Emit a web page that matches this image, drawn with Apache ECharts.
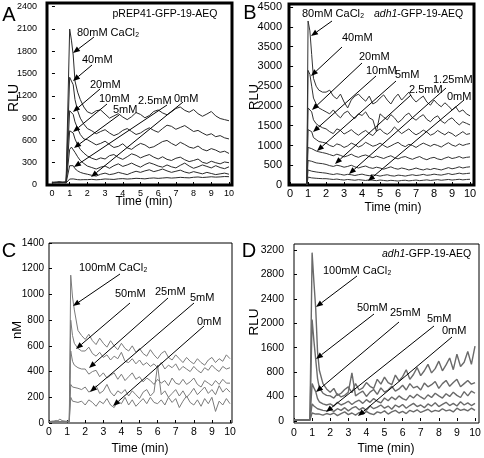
<!DOCTYPE html>
<html><head><meta charset="utf-8">
<script src="https://cdn.jsdelivr.net/npm/echarts@6/dist/echarts.min.js"></script>
<style>html,body{margin:0;padding:0;background:#fff}#c{width:484px;height:458px}</style>
</head><body><div id="c"></div>
<script>
// ---------- Panel A (pREP41-GFP-19-AEQ, RLU) ----------
const tA = [0,0.2,0.4,0.6,0.8,0.88,1.0,1.1,1.2,1.3,1.45,1.6,1.8,
  2.0,2.25,2.5,2.75,3.0,3.25,3.5,3.75,4.0,4.25,4.5,4.75,5.0,5.25,5.5,5.75,6.0,6.25,6.5,6.75,7.0,7.25,7.5,7.75,8.0,8.25,8.5,8.75,9.0,9.25,9.5,9.75,10.0];
const a80 = [40,35,45,38,42,60, 2100,1950,1750,1400,1250,1150,1050,
  985,960,1000,1010,955,900,930,960,915,880,920,975,950,905,935,990,1010,970,945,985,1030,1050,1005,980,1015,960,925,955,990,930,895,880,865];
const a40 = [35,30,40,35,38,55, 1450,1450,1350,1150,1000,900,820,
  760,730,690,720,745,700,665,690,735,760,720,680,700,740,770,735,710,760,805,790,750,775,800,760,720,735,700,670,690,650,665,635,620];
const a20 = [30,40,35,30,40,50, 1000,1000,950,850,760,680,620,
  610,575,540,560,590,545,505,520,555,500,480,525,560,540,500,515,550,585,600,560,530,575,545,510,495,525,480,460,490,470,440,455,425];
const a10 = [35,30,38,32,36,50, 730,740,700,620,540,480,430,
  390,360,340,365,350,395,410,370,345,380,420,400,365,390,410,375,350,380,345,330,360,375,340,315,330,350,305,290,320,300,285,310,300];
const a5 = [30,35,32,38,34,45, 480,510,500,440,380,330,290,
  255,235,215,240,255,225,260,285,250,270,295,265,240,275,300,280,255,240,270,245,230,265,295,255,225,245,270,250,230,260,235,220,245];
const a2_5 = [28,32,30,34,30,40, 260,280,260,220,190,170,155,
  145,130,120,145,160,140,150,170,155,140,165,185,170,190,205,180,195,215,190,170,185,200,175,160,180,165,150,170,155,140,150,160,145];
const a0 = [25,30,28,32,28,35, 80,85,82,78,72,70,72,
  72,76,70,74,81,78,75,83,86,80,84,90,87,83,91,95,89,94,99,93,97,103,99,96,104,108,101,105,111,106,109,114,112];
const aYTicks = [0,300,600,900,1200,1500,1800,2100,2400];

// ---------- Panel B (adh1-GFP-19-AEQ, RLU) ----------
const tB = [0.93,1.0,1.1,1.2,1.3,1.45,1.6,1.8,
  2.0,2.2,2.4,2.6,2.8,3.0,3.2,3.4,3.6,3.8,4.0,4.2,4.4,4.6,4.8,5.0,5.2,5.4,5.6,5.8,6.0,6.2,6.4,6.6,6.8,7.0,7.2,7.4,7.6,7.8,8.0,8.2,8.4,8.6,8.8,9.0,9.2,9.4,9.6,9.8,10.0];
const b80 = [0,4150,3900,3300,2700,2500,2400,2350,
  2350,2400,2250,2180,2300,2100,1950,2150,2250,2300,2200,2120,2250,2050,2100,2200,2280,2150,2050,2200,2300,2150,2250,2350,2200,2100,2180,2250,2100,2020,2150,2050,1980,2080,2000,1900,1980,1850,1900,1800,1750];
const b40 = [0,2900,2800,2500,2200,2050,1950,1900,
  1850,1800,1900,1780,1700,1820,1870,1750,1680,1800,1760,1850,1700,1650,1350,1800,1720,1650,1780,1700,1580,1650,1760,1820,1700,1640,1720,1780,1660,1600,1700,1750,1620,1560,1650,1700,1600,1520,1600,1560,1520];
const b20 = [0,1950,1950,1850,1650,1550,1500,1450,
  1420,1350,1300,1420,1380,1290,1340,1400,1320,1260,1330,1380,1300,1250,1360,1420,1330,1280,1350,1470,1380,1300,1360,1420,1330,1270,1320,1390,1340,1260,1300,1380,1320,1270,1340,1300,1230,1290,1350,1280,1300];
const b10 = [0,1400,1400,1350,1200,1150,1100,1080,
  1060,1000,970,1040,1010,950,990,1060,1020,960,1000,1080,1030,980,1010,1060,1000,950,990,1040,1080,1010,970,1030,1000,950,1010,1060,1020,980,1030,1000,960,1020,1070,1010,980,1040,1000,1030,1050];
const b5 = [0,950,950,920,880,860,840,820,
  800,770,740,780,750,710,740,780,730,700,740,760,720,690,730,700,670,710,740,690,660,700,720,680,650,690,720,670,640,680,700,660,640,680,710,670,690,720,680,700,710];
const b2_5 = [0,620,620,600,580,560,550,540,
  520,490,470,500,480,450,470,500,460,430,460,480,440,420,450,430,400,430,460,420,400,430,410,380,400,430,400,380,410,390,420,400,380,410,440,410,430,460,430,450,460];
const b1_25 = [0,380,370,350,340,330,320,310,
  300,280,265,285,270,250,270,260,240,260,275,250,235,255,245,225,245,260,235,225,250,240,225,245,260,240,250,270,245,255,275,260,250,270,290,265,280,300,280,290,300];
const b0 = [0,200,190,180,175,170,165,160,
  160,150,140,150,135,125,140,130,120,135,125,115,130,120,110,125,115,105,118,110,100,115,120,105,115,125,110,120,130,115,125,135,120,130,140,125,135,145,130,140,145];
const bYTicks = [0,500,1000,1500,2000,2500,3000,3500,4000,4500];

// ---------- Panel C (nM) ----------
const tC = [0,0.2,0.4,0.6,0.8,1.0,1.12,1.2,1.3,1.4,1.6,1.8,
  2.0,2.2,2.4,2.6,2.8,3.0,3.2,3.4,3.6,3.8,4.0,4.2,4.4,4.6,4.8,5.0,5.2,5.4,5.6,5.8,6.0,6.2,6.4,6.6,6.8,7.0,7.2,7.4,7.6,7.8,8.0,8.2,8.4,8.6,8.8,9.0,9.2,9.4,9.6,9.8,10.0];
const c100 = [10,15,8,30,12,10,15, 1150,980,880,720,680,
  650,690,640,610,660,620,590,640,600,570,620,580,560,600,550,580,540,520,570,530,500,540,560,510,490,530,500,470,510,480,460,500,470,450,490,510,470,500,480,530,500];
const c50 = [10,12,20,10,15,12,12, 800,680,620,580,560,
  560,590,540,520,550,510,530,490,520,500,550,480,470,500,460,490,450,470,440,460,430,470,420,450,430,460,410,440,420,400,440,410,390,430,410,450,420,400,440,420,430];
const c25 = [12,10,15,12,10,14,12, 560,480,450,430,420,
  420,380,400,410,360,390,350,370,390,340,380,330,360,390,340,360,320,350,330,300,340,310,330,290,350,310,300,340,300,320,350,300,280,330,310,290,330,300,340,310,310];
const c5 = [10,8,12,10,15,10,10, 300,280,290,270,260,
  280,240,260,290,230,250,300,240,210,250,230,260,210,250,220,190,240,260,210,240,450,220,250,200,230,260,210,250,200,230,270,220,250,280,230,260,220,290,240,270,240];
const c0 = [8,10,9,12,10,8,10, 200,170,180,160,170,
  140,180,160,130,170,150,190,140,120,170,150,200,140,180,130,160,190,150,200,160,150,180,140,200,160,190,120,170,210,160,140,180,130,190,150,200,90,170,140,190,150];
const cYTicks = [0,200,400,600,800,1000,1200,1400];

// ---------- Panel D (adh1-GFP-19-AEQ, RLU) ----------
const tD = [0,0.3,0.6,0.88,0.95,1.0,1.1,1.2,1.3,1.4,1.6,1.8,
  2.0,2.2,2.4,2.6,2.8,3.0,3.2,3.4,3.6,3.8,4.0,4.2,4.4,4.6,4.8,5.0,5.2,5.4,5.6,5.8,6.0,6.2,6.4,6.6,6.8,7.0,7.2,7.4,7.6,7.8,8.0,8.2,8.4,8.6,8.8,9.0,9.2,9.4,9.6,9.8,10.0];
const d100 = [20,15,25,18,20, 3150,2600,2100,1300,950,700,600,
  540,610,480,520,590,640,530,700,580,620,720,650,610,780,690,820,720,680,860,750,830,960,780,870,1000,850,940,1060,900,980,1120,940,1050,1180,960,1250,1020,1100,1300,1060,1400];
const d50 = [18,22,15,20,20, 1900,1500,1150,800,620,520,480,
  470,430,510,450,480,540,900,470,520,560,460,540,590,500,620,540,580,650,560,600,670,580,700,620,650,580,710,640,680,740,610,700,760,650,720,780,640,700,760,690,720];
const d25 = [15,20,18,22,18, 700,620,550,420,360,320,300,
  320,280,350,300,330,370,310,360,390,330,400,350,420,370,340,430,380,450,400,470,420,390,480,430,500,450,410,490,440,520,470,430,510,460,540,480,440,550,470,560,520];
const d5 = [20,18,22,20,18, 320,280,250,230,220,200,190,
  210,180,230,200,250,190,240,270,210,250,200,280,230,260,300,240,280,220,300,260,310,240,290,330,270,300,250,320,280,340,270,310,350,290,330,280,360,300,340,290,330];
const d0 = [18,20,16,20,18, 150,140,130,120,130,110,140,
  120,150,100,140,170,120,150,110,160,130,180,140,120,170,150,190,130,170,200,150,180,140,200,170,210,160,190,220,170,200,180,230,190,210,170,240,200,220,190,240,200];
const dYTickLabels = ['0','400','800','1600','2000','2400','2800','3200'];

const xTicks = [0,1,2,3,4,5,6,7,8,9,10];

// ---------- chart ----------
const FF = '"Liberation Sans", Arial, Helvetica, sans-serif';
const chart = echarts.init(document.getElementById('c'), null, {renderer: 'canvas'});

const grids = [
  {left: 47, top: 3, width: 185, height: 182, show: true, borderColor: '#000', borderWidth: 3, backgroundColor: 'rgba(0,0,0,0)'},
  {left: 289, top: 4, width: 185, height: 181, show: true, borderColor: '#000', borderWidth: 3, backgroundColor: 'rgba(0,0,0,0)'},
  {left: 49, top: 243, width: 183, height: 180, show: true, borderColor: '#000', borderWidth: 1, backgroundColor: 'rgba(0,0,0,0)'},
  {left: 294, top: 244, width: 185, height: 179, show: true, borderColor: '#000', borderWidth: 1, backgroundColor: 'rgba(0,0,0,0)'}
];
const plain = function (v) { return String(v); };

function xAx(gi, min, max, fs, margin) {
  return {type: 'value', gridIndex: gi, min: min, max: max,
    axisLine: {show: false}, splitLine: {show: false},
    axisTick: {show: true, inside: true, length: 3, customValues: xTicks, lineStyle: {color: '#000'}},
    axisLabel: {customValues: xTicks, fontSize: fs, fontFamily: FF, color: '#000', margin: margin, formatter: plain}};
}
function yAx(gi, min, max, ticks, fs, margin, fmt) {
  return {type: 'value', gridIndex: gi, min: min, max: max,
    axisLine: {show: false}, splitLine: {show: false},
    axisTick: {show: true, inside: true, length: 3, customValues: ticks, lineStyle: {color: '#000'}},
    axisLabel: {customValues: ticks, fontSize: fs, fontFamily: FF, color: '#000', margin: margin, formatter: fmt || plain}};
}
const dStep = 3200 / 7;
const dYTicks = dYTickLabels.map((s, i) => i * dStep);

const xAxes = [
  xAx(0, -0.28, 10.17, 9, 4),
  xAx(1, -0.06, 10.22, 11, 3),
  xAx(2, 0, 10.11, 10.5, 4),
  xAx(3, 0, 10.22, 10.5, 5)
];
const yAxes = [
  yAx(0, 0, 2450, aYTicks, 9, 10),
  yAx(1, 0, 4580, bYTicks, 11, 7),
  yAx(2, 0, 1400, cYTicks, 10, 5),
  yAx(3, -37, 3312, dYTicks, 10.5, 10, function (v) { return dYTickLabels[Math.round(v / dStep)]; })
];

function mk(times, vals, gi, color, width) {
  return {type: 'line', xAxisIndex: gi, yAxisIndex: gi, symbol: 'none', showSymbol: false,
    silent: true, animation: false,
    data: times.map((t, i) => [t, vals[i]]).filter(p => p[1] !== undefined),
    lineStyle: {color: color, width: width}};
}
const series = [];
[a0, a2_5, a5, a10, a20, a40, a80].forEach(v => series.push(mk(tA, v, 0, '#2a2a2a', 1)));
[b0, b1_25, b2_5, b5, b10, b20, b40, b80].forEach(v => series.push(mk(tB, v, 1, '#333', 1)));
[c0, c5, c25, c50, c100].forEach(v => series.push(mk(tC, v, 2, '#7a7a7a', 1)));
[d0, d5, d25, d50, d100].forEach(v => series.push(mk(tD, v, 3, '#6a6a6a', 1.4)));

// ---------- annotations ----------
const G = [];
function txt(s, x, y, size, opt) {
  opt = opt || {};
  G.push({type: 'text', x: x, y: y, rotation: opt.rot || 0, z: 100,
    style: {text: s, fontSize: size, fontFamily: FF, fill: '#000',
      align: opt.align || 'left', verticalAlign: 'middle',
      textAlign: opt.align || 'left', textVerticalAlign: 'middle',
      rich: opt.rich}});
}
function arrow(x1, y1, x2, y2) {
  const dx = x2 - x1, dy = y2 - y1, L = Math.hypot(dx, dy), ux = dx / L, uy = dy / L;
  const hl = 7, hw = 2.8, bx = x2 - ux * hl, by = y2 - uy * hl;
  G.push({type: 'line', z: 100, shape: {x1: x1, y1: y1, x2: bx, y2: by}, style: {stroke: '#000', lineWidth: 1}});
  G.push({type: 'polygon', z: 100, shape: {points: [[x2, y2], [bx - uy * hw, by + ux * hw], [bx + uy * hw, by - ux * hw]]}, style: {fill: '#000'}});
}
const italicRich = {i: {fontStyle: 'italic', fontSize: 10.5, fontFamily: FF, fill: '#000'}, n: {fontSize: 10.5, fontFamily: FF, fill: '#000'}};

// panel letters
txt('A', 9, 15, 20, {align: 'center'});
txt('B', 250, 13, 20, {align: 'center'});
txt('C', 9, 251, 20, {align: 'center'});
txt('D', 249, 251, 20, {align: 'center'});
// axis titles
txt('RLU', 14, 98, 14, {align: 'center', rot: Math.PI / 2});
txt('Time (min)', 144, 202, 12, {align: 'center'});
txt('RLU', 254, 97, 13, {align: 'center', rot: Math.PI / 2});
txt('Time (min)', 393, 208, 12, {align: 'center'});
txt('nM', 17, 330, 13, {align: 'center', rot: Math.PI / 2});
txt('Time (min)', 140, 449, 12, {align: 'center'});
txt('RLU', 254, 322, 13.5, {align: 'center', rot: Math.PI / 2});
txt('Time (min)', 386, 449, 12, {align: 'center'});

// Panel A labels
txt('pREP41-GFP-19-AEQ', 165, 14, 10.5, {align: 'center'});
txt('80mM CaCl\u2082', 77, 33, 11);
txt('40mM', 82, 60, 11);
txt('20mM', 90, 85, 11);
txt('10mM', 99, 99, 11);
txt('5mM', 113, 110, 11);
txt('2.5mM', 138, 101, 11);
txt('0mM', 174, 99, 11);
arrow(94, 37, 73, 53);
arrow(92, 65, 73, 81);
arrow(100, 89, 73, 112);
arrow(107, 104, 73, 132);
arrow(119, 115, 74, 148);
arrow(167, 105, 74, 167);
arrow(183, 102, 91, 177);

// Panel B labels
txt('80mM CaCl\u2082', 302, 14, 11);
txt('{i|adh1}{n|-GFP-19-AEQ}', 374, 14, 10.5, {rich: italicRich});
txt('40mM', 342, 38, 11);
txt('20mM', 359, 57, 11);
txt('10mM', 366, 71, 11);
txt('5mM', 395, 75, 11);
txt('1.25mM', 433, 80, 11);
txt('2.5mM', 409, 90, 11);
txt('0mM', 447, 97, 11);
arrow(332, 21, 311, 36);
arrow(342, 47, 311, 76);
arrow(362, 63, 312, 110);
arrow(376, 76, 313, 132);
arrow(396, 81, 317, 151);
arrow(411, 95, 335, 164);
arrow(446, 88, 349, 174);
arrow(464, 100, 368, 181);

// Panel C labels
txt('100mM CaCl\u2082', 79, 268, 11);
txt('50mM', 115, 294, 11);
txt('25mM', 155, 292, 11);
txt('5mM', 190, 298, 11);
txt('0mM', 197, 322, 11);
arrow(120, 274, 73, 306);
arrow(130, 303, 76, 349);
arrow(168, 298, 89, 368);
arrow(194, 303, 90, 392);
arrow(204, 326, 113, 406);

// Panel D labels
txt('{i|adh1}{n|-GFP-19-AEQ}', 382, 254, 10.5, {rich: italicRich});
txt('100mM CaCl\u2082', 323, 271, 11);
txt('50mM', 357, 308, 11);
txt('25mM', 390, 313, 11);
txt('5mM', 427, 319, 11);
txt('0mM', 442, 331, 11);
arrow(357, 276, 316, 307);
arrow(374, 314, 316, 359);
arrow(399, 322, 316, 392);
arrow(434, 326, 326, 412);
arrow(452, 337, 358, 416);

chart.setOption({
  animation: false,
  backgroundColor: '#fff',
  grid: grids,
  xAxis: xAxes,
  yAxis: yAxes,
  series: series,
  graphic: {elements: G}
});
</script></body></html>
